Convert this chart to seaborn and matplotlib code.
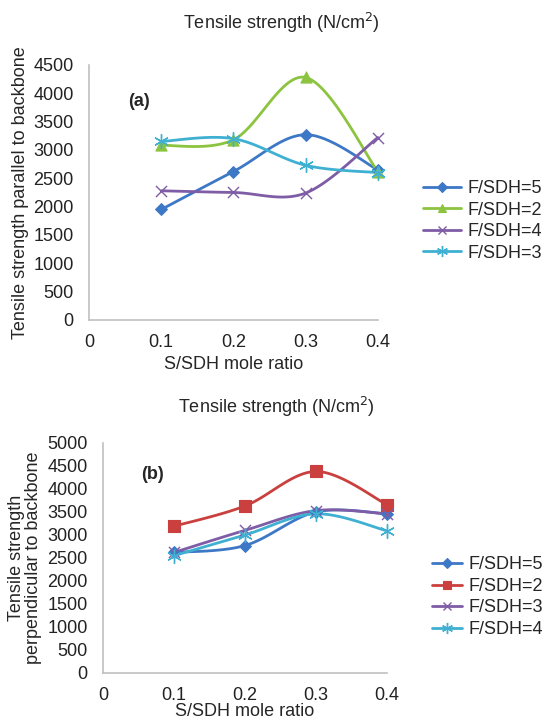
import numpy as np
import pandas as pd
import matplotlib
matplotlib.use("Agg")
import matplotlib.pyplot as plt
from matplotlib.lines import Line2D
import seaborn as sns

# S/SDH mole ratio (x values shared by both panels)
mole_ratio = [0.1, 0.2, 0.3, 0.4]

# panel (a): parallel to backbone
par_fsdh5 = [1950, 2620, 3270, 2650]
par_fsdh2 = [3080, 3180, 4280, 2620]
par_fsdh4 = [2280, 2250, 2240, 3220]
par_fsdh3 = [3150, 3200, 2730, 2600]

# panel (b): perpendicular to backbone
perp_fsdh5 = [2620, 2770, 3500, 3460]
perp_fsdh2 = [3190, 3630, 4380, 3660]
perp_fsdh3 = [2620, 3100, 3530, 3460]
perp_fsdh4 = [2550, 3000, 3460, 3090]

x_ticks = [0, 0.1, 0.2, 0.3, 0.4]
x_tick_labels = ["0", "0.1", "0.2", "0.3", "0.4"]

sns.set_theme(style="white")
plt.rcParams['font.family'] = ['Liberation Sans', 'DejaVu Sans']
plt.rcParams['font.size'] = 13

BLUE = "#3d78c6"
GREEN = "#8cc43f"
PURPLE = "#7e5ca6"
CYAN = "#3fb0d2"
RED = "#c9403e"
STAR = (6, 2, 0)


def excel_smooth(xs, ys, n=30):
    # smooth line like Excel's "smoothed line" option (bezier through the points)
    pts = np.column_stack([xs, ys]).astype(float)
    ext = np.vstack([pts[0], pts, pts[-1]])
    out = []
    t = np.linspace(0, 1, n)[:, None]
    for i in range(len(pts) - 1):
        p0, p1, p2, p3 = ext[i], ext[i + 1], ext[i + 2], ext[i + 3]
        c1 = p1 + (p2 - p0) / 6
        c2 = p2 - (p3 - p1) / 6
        seg = (1 - t) ** 3 * p1 + 3 * (1 - t) ** 2 * t * c1 + 3 * (1 - t) * t ** 2 * c2 + t ** 3 * p2
        out.append(seg if i == 0 else seg[1:])
    return np.vstack(out)


def draw_panel(ax, series, ymax, letter, letter_y):
    handles = []
    for label, vals, color, marker, ms, mew in series:
        curve = excel_smooth(mole_ratio, vals)
        ax.plot(curve[:, 0], curve[:, 1], color=color, lw=2.0, clip_on=False, zorder=2)
        df = pd.DataFrame({"x": mole_ratio, "y": vals})
        sns.scatterplot(data=df, x="x", y="y", ax=ax, marker=marker, s=ms ** 2,
                        color=color, edgecolor=color, linewidth=mew, clip_on=False, zorder=3)
        handles.append(Line2D([], [], color=color, lw=2.0, marker=marker,
                              markersize=ms * 0.8, markeredgewidth=mew, label=label))
    ax.set_xlim(0, 0.4)
    ax.set_ylim(0, ymax)
    ax.set_xticks(x_ticks)
    ax.set_xticklabels(x_tick_labels)
    ax.set_yticks(np.arange(0, ymax + 1, 500))
    ax.tick_params(axis="both", length=0, labelsize=13, colors="#222222")
    ax.tick_params(axis="y", pad=11)
    ax.tick_params(axis="x", pad=10)
    for s in ["top", "right"]:
        ax.spines[s].set_visible(False)
    for s in ["left", "bottom"]:
        ax.spines[s].set_color("#c0c0c0")
        ax.spines[s].set_linewidth(1.2)
    ax.text(0.135, letter_y, letter, transform=ax.transAxes, fontsize=13,
            fontweight="bold", va="center", ha="left")
    return handles


fig = plt.figure(figsize=(5.45, 7.22), dpi=100)
ax_a = fig.add_axes([0.1633, 0.5568, 0.530, 0.3532])
ax_b = fig.add_axes([0.189, 0.0679, 0.521, 0.3186])

h_a = draw_panel(ax_a, [
    ("F/SDH=5", par_fsdh5, BLUE, "D", 6, 0.8),
    ("F/SDH=2", par_fsdh2, GREEN, "^", 8, 0.8),
    ("F/SDH=4", par_fsdh4, PURPLE, "x", 8, 1.0),
    ("F/SDH=3", par_fsdh3, CYAN, STAR, 10, 1.0),
], 4500, "(a)", 0.855)

h_b = draw_panel(ax_b, [
    ("F/SDH=5", perp_fsdh5, BLUE, "D", 6, 0.8),
    ("F/SDH=2", perp_fsdh2, RED, "s", 8, 0.8),
    ("F/SDH=3", perp_fsdh3, PURPLE, "x", 8, 1.0),
    ("F/SDH=4", perp_fsdh4, CYAN, STAR, 10, 1.0),
], 5000, "(b)", 0.865)

ax_a.set_xlabel("S/SDH mole ratio", fontsize=13)
ax_a.set_ylabel("Tensile strength parallel to backbone", fontsize=13)
ax_a.xaxis.set_label_coords(0.5, -0.14)
ax_a.yaxis.set_label_coords(-0.208, 0.5)

ax_b.set_xlabel("S/SDH mole ratio", fontsize=13)
ax_b.set_ylabel("Tensile strength\nperpendicular to backbone", fontsize=13, linespacing=1.0)
ax_b.xaxis.set_label_coords(0.5, -0.132)
ax_b.yaxis.set_label_coords(-0.215, 0.5)

fig.text(0.517, 0.968, "Tensile strength (N/cm$^2$)", ha="center", va="center", fontsize=13)
fig.text(0.507, 0.436, "Tensile strength (N/cm$^2$)", ha="center", va="center", fontsize=13)

fig.legend(handles=h_a, loc="center left", bbox_to_anchor=(0.776, 0.694), frameon=False,
           fontsize=13, handlelength=2.1, handletextpad=0.35, labelspacing=0.25,
           borderpad=0, borderaxespad=0)
fig.legend(handles=h_b, loc="center left", bbox_to_anchor=(0.792, 0.173), frameon=False,
           fontsize=13, handlelength=1.7, handletextpad=0.35, labelspacing=0.25,
           borderpad=0, borderaxespad=0)

fig.savefig("out.png", dpi=100)
